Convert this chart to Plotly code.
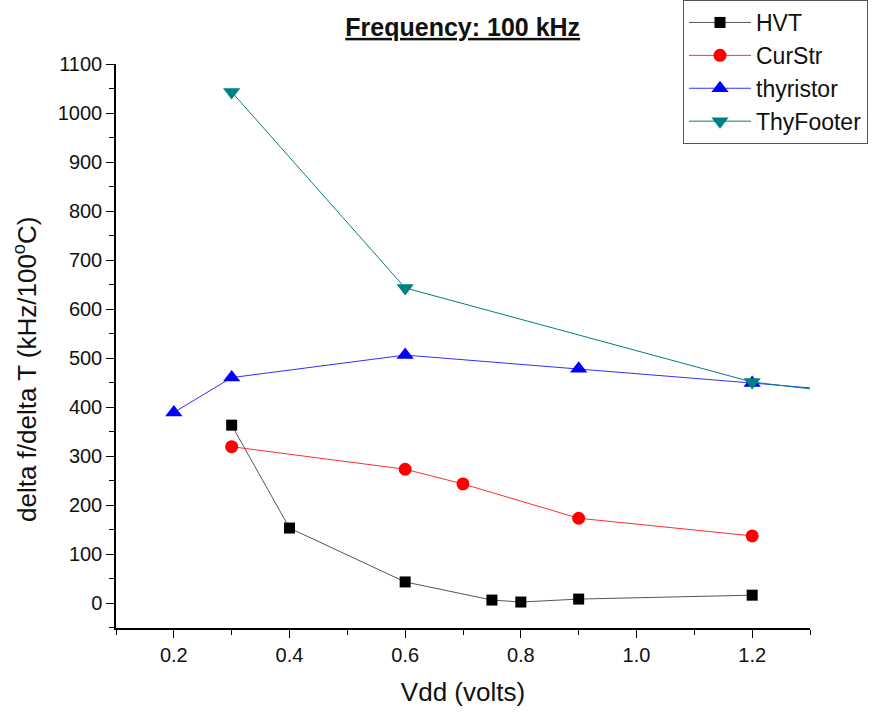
import plotly.graph_objects as go

hvt_x = [0.3, 0.4, 0.6, 0.75, 0.8, 0.9, 1.2]
hvt_y = [363, 153, 43, 6, 2, 8, 16]

cur_x = [0.3, 0.6, 0.7, 0.9, 1.2]
cur_y = [319, 273, 243, 173, 137]

thy_x = [0.2, 0.3, 0.6, 0.9, 1.2, 1.5]
thy_y = [389, 460, 506, 478, 449, 419]

foot_x = [0.3, 0.6, 1.2, 1.5]
foot_y = [1043, 643, 451, 409]

x_tickvals = [0.2, 0.4, 0.6, 0.8, 1.0, 1.2]
x_ticktext = ["0.2", "0.4", "0.6", "0.8", "1.0", "1.2"]
x_minor = [0.1, 0.3, 0.5, 0.7, 0.9, 1.1, 1.3]

fig = go.Figure()
series = [
    ("HVT", hvt_x, hvt_y, "#000000", "#555555", "square", 11),
    ("CurStr", cur_x, cur_y, "#ff0000", "#ff3030", "circle", 13),
    ("thyristor", thy_x, thy_y, "#0000ff", "#3030ff", "triangle-up", 15),
    ("ThyFooter", foot_x, foot_y, "#008080", "#008080", "triangle-down", 15),
]
for name, x, y, mc, lc, sym, sz in series:
    fig.add_trace(go.Scatter(
        x=x, y=y, name=name, mode="lines+markers",
        line=dict(color=lc, width=1),
        marker=dict(color=mc, symbol=sym, size=sz, line=dict(width=0)),
        cliponaxis=True,
    ))

fig.add_annotation(
    text="delta f/delta T (kHz/100<sup>o</sup>C)", textangle=-90,
    xref="paper", yref="paper", x=(25 - 116) / 694, y=(628 - 370) / 564,
    xanchor="center", yanchor="middle", showarrow=False,
    font=dict(size=26, color="#111111"),
)

fig.update_layout(
    width=878, height=713,
    margin=dict(l=116, r=68, t=64, b=85, autoexpand=False),
    paper_bgcolor="white", plot_bgcolor="white",
    font=dict(family="Arial, Liberation Sans, sans-serif", color="#111111"),
    title=dict(text="<b><u>Frequency: 100 kHz</u></b>", x=0.527, xanchor="center",
               y=0.962, yanchor="middle", font=dict(size=25, color="#111111")),
    showlegend=True,
    legend=dict(x=(683 - 116) / 694, y=1 + 64 / 564, xanchor="left", yanchor="top",
                bordercolor="#555555", borderwidth=1, bgcolor="white",
                font=dict(size=23, color="#111111"), tracegroupgap=0,
                itemwidth=62),
    xaxis=dict(
        range=[0.1, 1.3], tickmode="array",
        tickvals=x_tickvals, ticktext=x_ticktext,
        ticks="outside", ticklen=8, tickwidth=1.3, tickcolor="black",
        minor=dict(ticks="outside", tickvals=x_minor,
                   ticklen=5, tickwidth=1.3, tickcolor="black"),
        showline=True, linecolor="black", linewidth=1.5,
        showgrid=False, zeroline=False,
        tickfont=dict(size=20),
        title=dict(text="Vdd (volts)", font=dict(size=26), standoff=18),
    ),
    yaxis=dict(
        range=[-51, 1100], tickmode="linear", tick0=0, dtick=100,
        ticks="outside", ticklen=8, tickwidth=1.3, tickcolor="black",
        minor=dict(ticks="outside", dtick=50, tick0=50, ticklen=5,
                   tickwidth=1.3, tickcolor="black"),
        showline=True, linecolor="black", linewidth=1.5,
        showgrid=False, zeroline=False,
        tickfont=dict(size=20),
    ),
)

fig.write_html("out.html")
